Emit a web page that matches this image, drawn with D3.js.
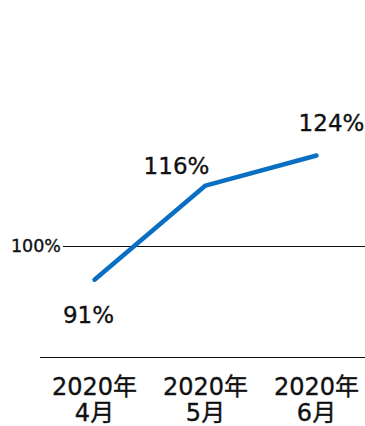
<!DOCTYPE html>
<html><head><meta charset="utf-8">
<script src="https://cdn.jsdelivr.net/npm/d3@7"></script>
<style>
html,body{margin:0;padding:0;background:#fff;}
svg{display:block;}
text{font-family:"DejaVu Sans","Noto Sans CJK JP",sans-serif;fill:#111;stroke:#111;stroke-width:0.35px;}
</style></head>
<body><svg id="chart" width="365" height="426"></svg>
<script>
const categories = ["2020年\n4月", "2020年\n5月", "2020年\n6月"];
const values = [91, 116, 124];
const valueLabels = ["91%", "116%", "124%"];
const refTicks = [100];
const refTickLabels = ["100%"];

const W = 365, H = 426;
const svg = d3.select("#chart");

const x = d3.scaleBand().domain(categories).range([39, 372]).paddingInner(0).paddingOuter(0);
const y = d3.scaleLinear().domain([70.6, 165.3]).range([356.5, 0]);

// reference line (100%)
const yAxis = svg.append("g").attr("transform", "translate(63,0)")
  .call(d3.axisLeft(y).tickValues(refTicks).tickFormat((d,i)=>refTickLabels[i])
    .tickSize(-(W - 63)).tickPadding(2));
yAxis.select(".domain").remove();
yAxis.selectAll("line").attr("stroke", "#111").attr("stroke-width", 1).attr("shape-rendering", "crispEdges");
yAxis.selectAll("text").style("font-size", "17.5px").attr("fill", "#111")
  .style("font-family", '"DejaVu Sans","Noto Sans CJK JP",sans-serif');

// x axis baseline
const xAxis = svg.append("g").attr("transform", `translate(0,${y.range()[0]})`)
  .call(d3.axisBottom(x).tickSize(0).tickPadding(0).tickFormat(""));
xAxis.select(".domain").attr("stroke", "#111").attr("stroke-width", 1).attr("shape-rendering", "crispEdges");
xAxis.selectAll(".tick").each(function(d){
  const t = d3.select(this).append("text").attr("text-anchor", "middle")
    .style("font-size", "24px").attr("fill", "#111")
    .style("font-family", '"DejaVu Sans","Noto Sans CJK JP",sans-serif');
  d.split("\n").forEach((s, i) => {
    t.append("tspan").attr("x", 0).attr("y", 38 + i * 26.7).text(s);
  });
});

// line
const pts = categories.map((c, i) => [x(c) + x.bandwidth() / 2, y(values[i])]);
svg.append("path").datum(pts)
  .attr("d", d3.line())
  .attr("fill", "none").attr("stroke", "#0a6fc2").attr("stroke-width", 4.5)
  .attr("stroke-linecap", "round").attr("stroke-linejoin", "round");

// value labels (layout offsets)
const labelOffsets = [[-6, 43], [-29, -12], [15, -24]];
svg.append("g").selectAll("text").data(values).join("text")
  .attr("x", (d, i) => pts[i][0] + labelOffsets[i][0])
  .attr("y", (d, i) => pts[i][1] + labelOffsets[i][1])
  .attr("text-anchor", "middle").style("font-size", "23px")
  .text((d, i) => valueLabels[i]);
</script></body></html>
